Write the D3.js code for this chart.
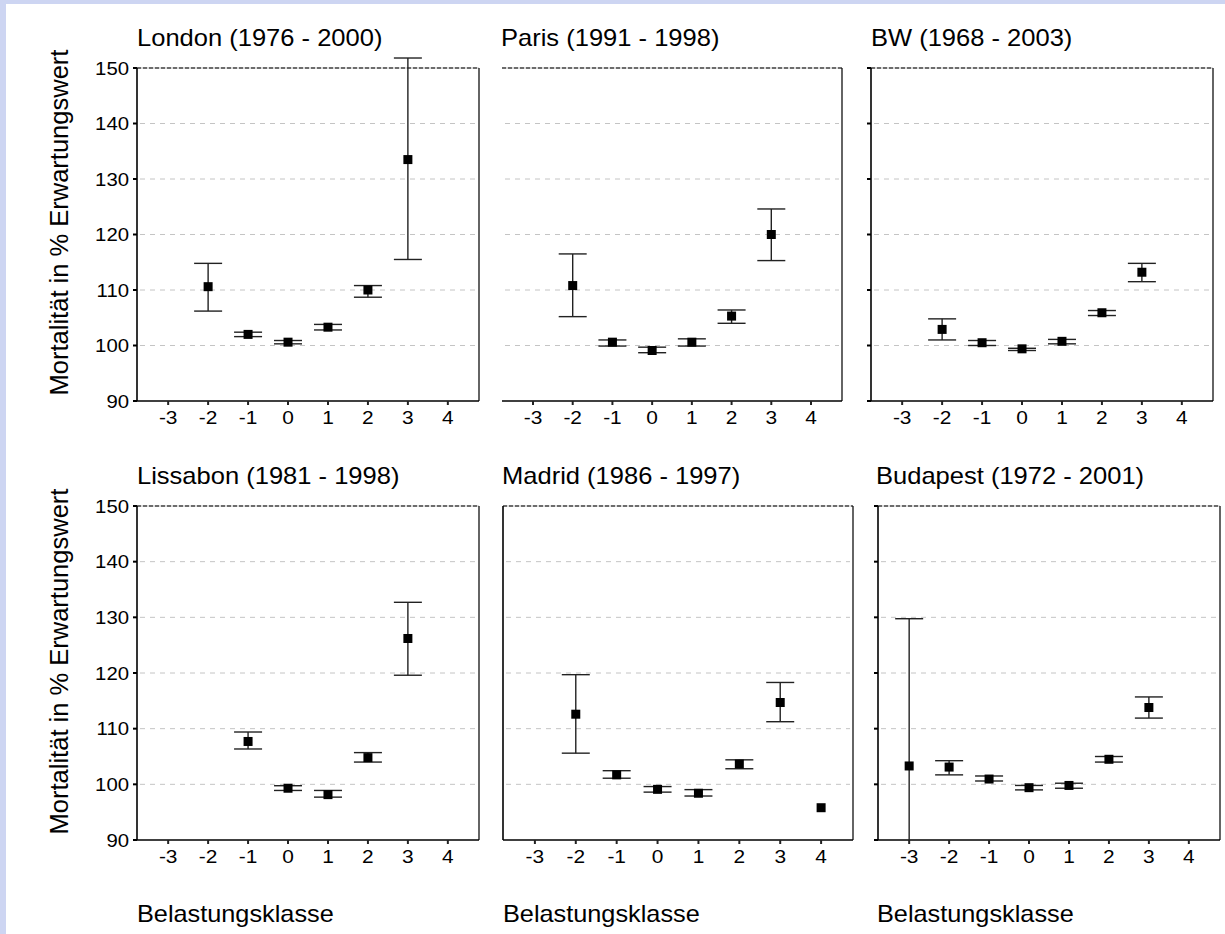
<!DOCTYPE html>
<html>
<head>
<meta charset="utf-8">
<script src="https://cdn.jsdelivr.net/npm/d3@7"></script>
<style>
  html, body { margin: 0; padding: 0; background: #fff; }
  svg { display: block; font-family: "Liberation Sans", Arial, sans-serif; }
</style>
</head>
<body>
<script>
(function() {

//------------------------------------------------------------------------------
// Data
//------------------------------------------------------------------------------

var classes = [-3, -2, -1, 0, 1, 2, 3, 4];
var yTicks = [90, 100, 110, 120, 130, 140, 150];
var gridTicks = [100, 110, 120, 130, 140];

var titles = ["London (1976 - 2000)", "Paris (1991 - 1998)", "BW (1968 - 2003)",
              "Lissabon (1981 - 1998)", "Madrid (1986 - 1997)", "Budapest (1972 - 2001)"];

// one value per class, null = no value
var londonMean = [null, 110.6, 102.0, 100.6, 103.3, 110.0, 133.5, null];
var londonLow  = [null, 106.2, 101.6, 100.3, 102.8, 108.7, 115.5, null];
var londonHigh = [null, 114.8, 102.4, 100.9, 103.8, 110.8, 151.8, null];

var parisMean = [null, 110.8, 100.6, 99.1, 100.6, 105.3, 120.0, null];
var parisLow  = [null, 105.2, 99.9, 98.7, 99.9, 104.0, 115.3, null];
var parisHigh = [null, 116.5, 101.0, 99.7, 101.2, 106.4, 124.6, null];

var bwMean = [null, 102.9, 100.5, 99.4, 100.75, 105.9, 113.2, null];
var bwLow  = [null, 101.0, 100.0, 99.1, 100.3, 105.4, 111.5, null];
var bwHigh = [null, 104.8, 100.9, 99.5, 101.1, 106.3, 114.8, null];

var lissabonMean = [null, null, 107.7, 99.3, 98.15, 104.8, 126.2, null];
var lissabonLow  = [null, null, 106.35, 98.9, 97.7, 104.0, 119.6, null];
var lissabonHigh = [null, null, 109.4, 99.75, 98.9, 105.7, 132.7, null];

var madridMean = [null, 112.6, 101.7, 99.1, 98.4, 103.65, 114.7, 95.8];
var madridLow  = [null, 105.6, 101.1, 98.6, 97.9, 102.8, 111.25, null];
var madridHigh = [null, 119.7, 102.45, 99.6, 99.05, 104.4, 118.3, null];

var budapestMean = [103.3, 103.1, 100.95, 99.4, 99.8, 104.5, 113.8, null];
var budapestLow  = [76.9, 101.7, 100.6, 99.0, 99.3, 104.0, 111.9, null];
var budapestHigh = [129.75, 104.25, 101.5, 99.8, 100.2, 105.0, 115.7, null];

var means = [londonMean, parisMean, bwMean, lissabonMean, madridMean, budapestMean];
var lows  = [londonLow, parisLow, bwLow, lissabonLow, madridLow, budapestLow];
var highs = [londonHigh, parisHigh, bwHigh, lissabonHigh, madridHigh, budapestHigh];

//------------------------------------------------------------------------------
// Layout
//------------------------------------------------------------------------------

var W = 1225, H = 934;

var panels = [
  {x0: 137, x1: 479, y0: 68,  y1: 401, left: true,  ticks: true,  labels: true,  tx: 137},
  {x0: 502, x1: 842, y0: 68,  y1: 401, left: false, ticks: false, labels: false, tx: 501},
  {x0: 871, x1: 1213, y0: 68, y1: 401, left: true,  ticks: true,  labels: false, tx: 871},
  {x0: 137, x1: 479, y0: 506, y1: 840, left: true,  ticks: true,  labels: true,  tx: 137},
  {x0: 503, x1: 853, y0: 506, y1: 840, left: true,  ticks: false, labels: false, tx: 502},
  {x0: 878, x1: 1220, y0: 506, y1: 840, left: true, ticks: true,  labels: false, tx: 876}
];

var stretch = 1.12;

var svg = d3.select("body").append("svg")
  .attr("width", W)
  .attr("height", H);

// background with the blue slide edge
svg.append("rect").attr("width", W).attr("height", H).attr("fill", "#cdd5f2");
svg.append("rect").attr("x", 6).attr("y", 4).attr("width", W - 6).attr("height", H - 4).attr("fill", "#fff");

function label(g, x, y, text, size, sx, anchor) {
  return g.append("text")
    .attr("transform", "translate(" + x + "," + y + ") scale(" + sx + ",1)")
    .attr("font-size", size)
    .attr("text-anchor", anchor || "start")
    .attr("fill", "#000")
    .text(text);
}

panels.forEach(function(p, k) {
  var g = svg.append("g");

  var x = d3.scaleLinear().domain([-3.78, 4.78]).range([p.x0, p.x1]);
  var y = d3.scaleLinear().domain([90, 150]).range([p.y1, p.y0]);

  // grid
  g.selectAll(".grid")
    .data(gridTicks)
    .enter().append("line")
    .attr("x1", p.x0 + 3).attr("x2", p.x1 - 3)
    .attr("y1", function(d) { return y(d); })
    .attr("y2", function(d) { return y(d); })
    .attr("stroke", "#c4c4c4")
    .attr("stroke-width", 1)
    .attr("stroke-dasharray", "5,5");

  // top border: grey base with black dashes
  g.append("line")
    .attr("x1", p.x0).attr("x2", p.x1)
    .attr("y1", y(150)).attr("y2", y(150))
    .attr("stroke", "#b8b8b8").attr("stroke-width", 1.2);
  g.append("line")
    .attr("x1", p.x0).attr("x2", p.x1)
    .attr("y1", y(150)).attr("y2", y(150))
    .attr("stroke", "#000").attr("stroke-width", 1.2)
    .attr("stroke-dasharray", "4,2");

  // right border
  g.append("line")
    .attr("x1", p.x1).attr("x2", p.x1)
    .attr("y1", p.y0).attr("y2", p.y1)
    .attr("stroke", "#111").attr("stroke-width", 1.3);

  // left axis
  if (p.left) {
    g.append("line")
      .attr("x1", p.x0).attr("x2", p.x0)
      .attr("y1", p.y0).attr("y2", p.y1)
      .attr("stroke", "#000").attr("stroke-width", 1.6);
  }
  if (p.ticks) {
    g.selectAll(".ytick")
      .data(yTicks)
      .enter().append("line")
      .attr("x1", p.x0 - 4).attr("x2", p.x0)
      .attr("y1", function(d) { return y(d); })
      .attr("y2", function(d) { return y(d); })
      .attr("stroke", "#000").attr("stroke-width", 2);
  }
  if (p.labels) {
    yTicks.forEach(function(d) {
      label(g, p.x0 - 8, y(d) + 6.5, d, 18, 1.13, "end");
    });
  }

  // bottom axis
  g.append("line")
    .attr("x1", p.x0).attr("x2", p.x1)
    .attr("y1", p.y1).attr("y2", p.y1)
    .attr("stroke", "#000").attr("stroke-width", 1.6);
  g.selectAll(".xtick")
    .data(classes)
    .enter().append("line")
    .attr("x1", function(d) { return x(d); })
    .attr("x2", function(d) { return x(d); })
    .attr("y1", p.y1).attr("y2", p.y1 + 4)
    .attr("stroke", "#222").attr("stroke-width", 2);
  classes.forEach(function(d) {
    label(g, x(d), p.y1 + 23, d, 18.5, 1.13, "middle");
  });

  // title
  label(g, p.tx, p.y0 - 22.3, titles[k], 23, 1.11, "start");

  // error bars and means
  var rows = classes.map(function(c, i) {
    return {c: c, m: means[k][i], lo: lows[k][i], hi: highs[k][i]};
  }).filter(function(d) { return d.m !== null; });

  var bars = rows.filter(function(d) { return d.lo !== null; });
  var capW = 14;

  g.selectAll(".bar")
    .data(bars)
    .enter().append("line")
    .attr("x1", function(d) { return x(d.c); })
    .attr("x2", function(d) { return x(d.c); })
    .attr("y1", function(d) { return y(Math.max(d.lo, 90)); })
    .attr("y2", function(d) { return y(d.hi); })
    .attr("stroke", "#222").attr("stroke-width", 1.4);

  var caps = [];
  bars.forEach(function(d) {
    if (d.lo >= 90) caps.push({c: d.c, v: d.lo});
    caps.push({c: d.c, v: d.hi});
  });
  g.selectAll(".cap")
    .data(caps)
    .enter().append("line")
    .attr("x1", function(d) { return x(d.c) - capW; })
    .attr("x2", function(d) { return x(d.c) + capW; })
    .attr("y1", function(d) { return y(d.v); })
    .attr("y2", function(d) { return y(d.v); })
    .attr("stroke", "#222").attr("stroke-width", 1.4);

  var s = 9;
  g.selectAll(".mean")
    .data(rows)
    .enter().append("rect")
    .attr("x", function(d) { return x(d.c) - s / 2; })
    .attr("y", function(d) { return y(d.m) - s / 2; })
    .attr("width", s).attr("height", s)
    .attr("fill", "#000");
});

// shared axis titles
[222.5, 661.5].forEach(function(cy) {
  svg.append("text")
    .attr("transform", "translate(68," + cy + ") rotate(-90)")
    .attr("font-size", 25.5)
    .attr("text-anchor", "middle")
    .attr("fill", "#000")
    .text("Mortalität in % Erwartungswert");
});

[137, 503, 877].forEach(function(bx) {
  label(svg, bx, 922, "Belastungsklasse", 23, 1.10, "start");
});

})();
</script>
</body>
</html>
